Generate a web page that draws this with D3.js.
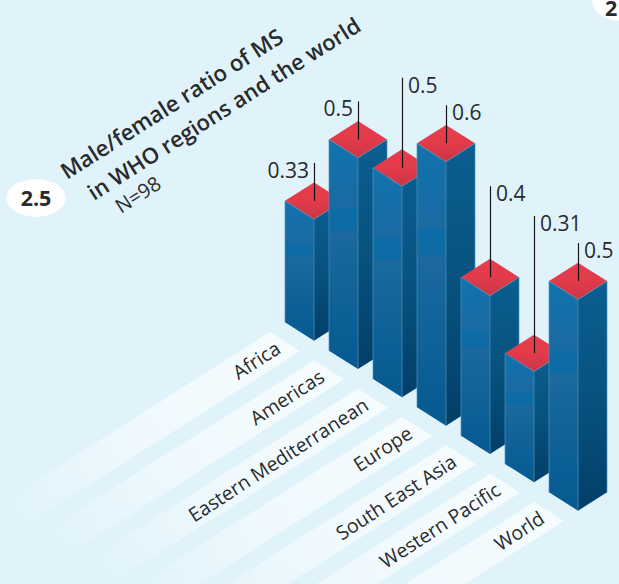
<!DOCTYPE html>
<html>
<head>
<meta charset="utf-8">
<script src="https://cdnjs.cloudflare.com/ajax/libs/d3/7.8.5/d3.min.js"></script>
<style>
html,body{margin:0;padding:0;background:#e0f3fb;overflow:hidden}
svg{display:block}
text{font-family:"Open Sans",sans-serif;fill:#2a2a2c}
</style>
</head>
<body>
<svg id="c" width="619" height="584"></svg>
<script>
const categories = ["Africa","Americas","Eastern Mediterranean","Europe","South East Asia","Western Pacific","World"];
const ratios = [0.33,0.5,0.5,0.6,0.4,0.31,0.5];
const valueLabels = ["0.33","0.5","0.5","0.6","0.4","0.31","0.5"];
const leaderRise = [38,38,90,38,91,137,38];
const labelSide = ["left","left","right","right","right","right","right"];

const svg = d3.select("#c");
const defs = svg.append("defs");

const x = d3.scalePoint().domain(categories).range([314,578]);
const yBase = d3.scalePoint().domain(categories).range([340.7,510.7]);
const h = d3.scaleLinear().domain([0.1,0.6]).range([0,264]);
const hw = 29, hd = 18.4;
const poly = pts => pts.map(p => p.join(",")).join(" ");

function grad(id, stops){
  const g = defs.append("linearGradient").attr("id",id)
    .attr("x1",0).attr("y1",0).attr("x2",0).attr("y2",1);
  stops.forEach(s=>g.append("stop").attr("offset",s[0]).attr("stop-color",s[1]));
}
grad("gl",[[0,"#1174ad"],[0.12,"#146fa9"],[0.299,"#1b6aa3"],[0.30,"#0e6ca6"],[0.40,"#0d6aa3"],[0.401,"#1b699f"],[0.6,"#12649b"],[1,"#065a90"]]);
grad("gr",[[0,"#0b5e90"],[0.5,"#07527f"],[1,"#023f69"]]);
grad("gt",[[0,"#e83d4c"],[0.5,"#e23b4a"],[1,"#cc3545"]]);

// label strips
const stripRun = 275, stripSlope = 0.635;
const strips = svg.append("g");
categories.forEach((c,i)=>{
  const dx = x(c)-x(categories[0]), dy = yBase(c)-yBase(categories[0]);
  const tip = [270+dx,332+dy], right=[300+dx,351+dy];
  const id="s"+i;
  defs.append("linearGradient").attr("id",id).attr("gradientUnits","userSpaceOnUse")
    .attr("x1",tip[0]+15).attr("y1",tip[1]+9).attr("x2",tip[0]+15-stripRun).attr("y2",tip[1]+9+stripRun*stripSlope)
    .call(g=>{
      g.append("stop").attr("offset",0).attr("stop-color","#f6fcfe");
      g.append("stop").attr("offset",0.55).attr("stop-color","#eff9fd");
      g.append("stop").attr("offset",1).attr("stop-color","#e0f3fb");
    });
  strips.append("polygon")
    .attr("points",poly([tip,right,[right[0]-stripRun,right[1]+stripRun*stripSlope],[tip[0]-stripRun,tip[1]+stripRun*stripSlope]]))
    .attr("fill",`url(#${id})`);
  strips.append("text")
    .attr("transform",`translate(${282+dx},${352+dy}) rotate(-33)`)
    .attr("text-anchor","end")
    .attr("font-size",19.5)
    .text(c);
});

// bars
const bars = svg.append("g");
categories.forEach((c,i)=>{
  const cx=x(c), by=yBase(c), fy=by-h(ratios[i]);
  const g=bars.append("g");
  g.append("polygon").attr("points",poly([[cx-hw,fy-hd],[cx,fy],[cx,by],[cx-hw,by-hd]])).attr("fill","url(#gl)");
  g.append("polygon").attr("points",poly([[cx,fy],[cx+hw,fy-hd],[cx+hw,by-hd],[cx,by]])).attr("fill","url(#gr)");
  g.append("polygon").attr("points",poly([[cx-hw,fy-hd],[cx,fy-2*hd],[cx+hw,fy-hd],[cx,fy]])).attr("fill","url(#gt)");
  g.append("polyline").attr("points",poly([[cx-hw,by-hd],[cx-hw,fy-hd],[cx,fy],[cx+hw,fy-hd],[cx+hw,by-hd]]))
    .attr("fill","none").attr("stroke","#4f93bf").attr("stroke-width",0.7);
  g.append("line").attr("x1",cx).attr("x2",cx).attr("y1",fy).attr("y2",by)
    .attr("stroke","#4a8ab3").attr("stroke-width",0.8);
  const lineBottom=fy-hd, lineTop=lineBottom-leaderRise[i];
  g.append("line").attr("x1",cx+0.5).attr("x2",cx+0.5).attr("y1",lineTop).attr("y2",lineBottom)
    .attr("stroke","#141416").attr("stroke-width",1.2);
  const left=labelSide[i]==="left";
  g.append("text").attr("x",left?cx-5:cx+6).attr("y",lineTop+15)
    .attr("text-anchor",left?"end":"start").attr("font-size",21).text(valueLabels[i]);
});

// title block
svg.append("text").attr("transform","translate(67,180) rotate(-32.5)")
  .attr("font-size",22.3).attr("font-weight",600).text("Male/female ratio of MS");
svg.append("text").attr("transform","translate(94,201) rotate(-32.5)")
  .attr("font-size",22).attr("font-weight",600).text("in WHO regions and the world");
svg.append("text").attr("transform","translate(121,214) rotate(-32.5)")
  .attr("font-size",20).text("N=98");

svg.append("ellipse").attr("cx",36).attr("cy",198).attr("rx",29.5).attr("ry",19).attr("fill","#fff");
svg.append("text").attr("x",36).attr("y",206).attr("text-anchor","middle")
  .attr("font-size",21.5).attr("font-weight",700).attr("fill","#231f20").text("2.5");
svg.append("ellipse").attr("cx",622).attr("cy",2).attr("rx",29.5).attr("ry",19).attr("fill","#fff");
svg.append("text").attr("x",605).attr("y",16).attr("font-size",21.5).attr("font-weight",700).attr("fill","#231f20").text("2");
</script>
</body>
</html>
